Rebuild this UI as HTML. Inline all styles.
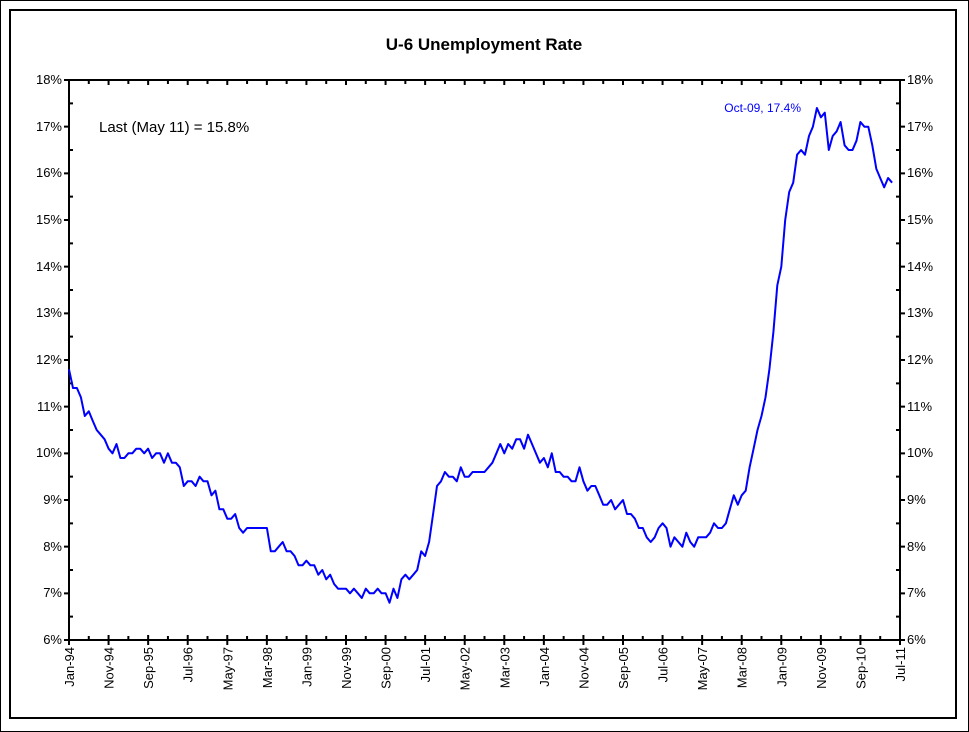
<!DOCTYPE html>
<html><head><meta charset="utf-8"><style>
html,body{margin:0;padding:0;background:#fff}
svg{display:block;font-family:"Liberation Sans",Arial,sans-serif}
</style></head><body>
<svg id="s" width="969" height="732" viewBox="0 0 969 732" xmlns="http://www.w3.org/2000/svg">
<rect x="0.5" y="0.5" width="968" height="731" fill="#fff" stroke="#000" stroke-width="1"/>
<rect x="10" y="10" width="946" height="708" fill="#fff" stroke="#000" stroke-width="2"/>
<text x="484" y="50" font-size="17" font-weight="bold" text-anchor="middle">U-6 Unemployment Rate</text>
<text x="99" y="132" font-size="15">Last (May 11) = 15.8%</text>
<text x="801" y="112" font-size="12" fill="#0000ff" text-anchor="end">Oct-09, 17.4%</text>
<g id="ax" stroke="#000" stroke-width="2" fill="none"></g>
<g font-size="13" id="yl">
<text x="62" y="644" text-anchor="end">6%</text><text x="62" y="597" text-anchor="end">7%</text><text x="62" y="551" text-anchor="end">8%</text><text x="62" y="504" text-anchor="end">9%</text><text x="62" y="457" text-anchor="end">10%</text><text x="62" y="411" text-anchor="end">11%</text><text x="62" y="364" text-anchor="end">12%</text><text x="62" y="317" text-anchor="end">13%</text><text x="62" y="271" text-anchor="end">14%</text><text x="62" y="224" text-anchor="end">15%</text><text x="62" y="177" text-anchor="end">16%</text><text x="62" y="131" text-anchor="end">17%</text><text x="62" y="84" text-anchor="end">18%</text>
<text x="907" y="644">6%</text><text x="907" y="597">7%</text><text x="907" y="551">8%</text><text x="907" y="504">9%</text><text x="907" y="457">10%</text><text x="907" y="411">11%</text><text x="907" y="364">12%</text><text x="907" y="317">13%</text><text x="907" y="271">14%</text><text x="907" y="224">15%</text><text x="907" y="177">16%</text><text x="907" y="131">17%</text><text x="907" y="84">18%</text>
</g>
<g font-size="13" text-anchor="end">
<text transform="translate(74,647) rotate(-90)">Jan-94</text>
<text transform="translate(113.6,647) rotate(-90)">Nov-94</text>
<text transform="translate(153.1,647) rotate(-90)">Sep-95</text>
<text transform="translate(192.7,647) rotate(-90)">Jul-96</text>
<text transform="translate(232.3,647) rotate(-90)">May-97</text>
<text transform="translate(271.9,647) rotate(-90)">Mar-98</text>
<text transform="translate(311.4,647) rotate(-90)">Jan-99</text>
<text transform="translate(351,647) rotate(-90)">Nov-99</text>
<text transform="translate(390.6,647) rotate(-90)">Sep-00</text>
<text transform="translate(430.1,647) rotate(-90)">Jul-01</text>
<text transform="translate(469.7,647) rotate(-90)">May-02</text>
<text transform="translate(509.3,647) rotate(-90)">Mar-03</text>
<text transform="translate(548.8,647) rotate(-90)">Jan-04</text>
<text transform="translate(588.4,647) rotate(-90)">Nov-04</text>
<text transform="translate(628,647) rotate(-90)">Sep-05</text>
<text transform="translate(667.6,647) rotate(-90)">Jul-06</text>
<text transform="translate(707.1,647) rotate(-90)">May-07</text>
<text transform="translate(746.7,647) rotate(-90)">Mar-08</text>
<text transform="translate(786.3,647) rotate(-90)">Jan-09</text>
<text transform="translate(825.8,647) rotate(-90)">Nov-09</text>
<text transform="translate(865.4,647) rotate(-90)">Sep-10</text>
<text transform="translate(905,647) rotate(-90)">Jul-11</text>
</g>
<polyline id="ln" fill="none" stroke="#0000ff" stroke-width="2" stroke-linejoin="round"/>
</svg>
<script>
var d=[11.8,11.4,11.4,11.2,10.8,10.9,10.7,10.5,10.4,10.3,10.1,10.0,
10.2,9.9,9.9,10.0,10.0,10.1,10.1,10.0,10.1,9.9,10.0,10.0,
9.8,10.0,9.8,9.8,9.7,9.3,9.4,9.4,9.3,9.5,9.4,9.4,
9.1,9.2,8.8,8.8,8.6,8.6,8.7,8.4,8.3,8.4,8.4,8.4,
8.4,8.4,8.4,7.9,7.9,8.0,8.1,7.9,7.9,7.8,7.6,7.6,
7.7,7.6,7.6,7.4,7.5,7.3,7.4,7.2,7.1,7.1,7.1,7.0,
7.1,7.0,6.9,7.1,7.0,7.0,7.1,7.0,7.0,6.8,7.1,6.9,7.3,
7.4,7.3,7.4,7.5,7.9,7.8,8.1,8.7,9.3,
9.4,9.6,9.5,9.5,9.4,9.7,9.5,9.5,9.6,9.6,9.6,
9.6,9.7,9.8,10.0,10.2,10.0,10.2,10.1,10.3,10.3,10.1,10.4,
10.2,10.0,9.8,9.9,9.7,10.0,9.6,9.6,9.5,9.5,9.4,9.4,
9.7,9.4,9.2,9.3,9.3,9.1,8.9,8.9,9.0,8.8,8.9,9.0,
8.7,8.7,8.6,8.4,8.4,8.2,8.1,8.2,8.4,8.5,8.4,8.0,
8.2,8.1,8.0,8.3,8.1,8.0,8.2,8.2,8.2,8.3,8.5,8.4,
8.4,8.5,8.8,9.1,8.9,9.1,9.2,9.7,10.1,10.5,10.8,11.2,
11.8,12.6,13.6,14.0,15.0,15.6,15.8,16.4,16.5,16.4,16.8,17.0,
17.4,17.2,17.3,16.5,16.8,16.9,17.1,16.6,16.5,16.5,16.7,17.1,
17.0,17.0,16.6,16.1,15.9,15.7,15.9,15.8];
var L=69,R=900,T=80,B=640,dx=(R-L)/210;
function Y(v){return B-(v-6)*(B-T)/12;}
document.getElementById('ln').setAttribute('points',d.map(function(v,i){return (L+i*dx).toFixed(1)+','+Y(v).toFixed(1)}).join(' '));
var s='<rect x="'+L+'" y="'+T+'" width="'+(R-L)+'" height="'+(B-T)+'"/>';
for(var i=0;i<=24;i++){var y=B-i*(B-T)/24;
 if(i%2==0){s+='<path d="M'+(L-5)+' '+y+'H'+L+'M'+R+' '+y+'H'+(R+5)+'"/>';}
 else{s+='<path d="M'+L+' '+y+'H'+(L+4)+'M'+(R-4)+' '+y+'H'+R+'"/>';}}
for(var m=0;m<=210;m+=5){var x=L+m*dx;
 if(m%10==0){s+='<path d="M'+x+' '+(B-5)+'V'+(B+5)+'M'+x+' '+T+'V'+(T+5)+'"/>';}
 else{s+='<path d="M'+x+' '+(B-4)+'V'+B+'M'+x+' '+T+'V'+(T+4)+'"/>';}}
document.getElementById('ax').innerHTML=s;
</script>
</body></html>
